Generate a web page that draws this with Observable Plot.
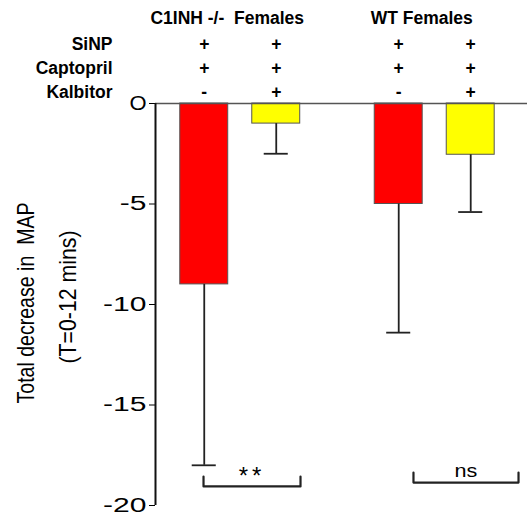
<!DOCTYPE html>
<html><head><meta charset="utf-8">
<script src="https://cdn.jsdelivr.net/npm/d3@7"></script>
<script src="https://cdn.jsdelivr.net/npm/@observablehq/plot@0.6"></script>
<style>
body{margin:0;background:#fff;}
#chart svg text{white-space:pre;}
</style></head><body><div id="chart"></div>
<script>
// ---- data ----
const groups = ["C1INH -/-  Females", "WT Females"];
const treatments = ["SiNP", "Captopril", "Kalbitor"];
const barGroup = [0, 0, 1, 1];
const means = [-9.0, -1.0, -5.0, -2.55];
const errLow = [-18.0, -2.5, -11.4, -5.4];
const signs = [["+", "+", "-"], ["+", "+", "+"], ["+", "+", "-"], ["+", "+", "+"]];
const yTicks = [0, -5, -10, -15, -20];
const yTickLabels = ["O", "-5", "-10", "-15", "-20"];
const yLabelLines = ["Total decrease in  MAP", "(T=0-12 mins)"];
const sigLabels = ["**", "ns"];

// ---- layout ----
const W = 527, H = 516;
const groupCenter = [1.177, 3.878];
const barHalf = 0.333, capHalf = 0.167;
const slot = i => barGroup.slice(0, i).filter(g => g === barGroup[i]).length;
const xOf = i => groupCenter[barGroup[i]] + (slot(i) - 0.5);
const rowY = k => 2.94 - k * 1.2;

const bars = means.map((m, i) => ({i, x: xOf(i), m, lo: errLow[i], kal: signs[i][2]}));
const signData = [];
signs.forEach((s, i) => s.forEach((t, k) => signData.push({x: xOf(i), y: rowY(k), t})));

const brackets = [
  {label: sigLabels[0], x1: groupCenter[0] - 0.51, x2: groupCenter[0] + 0.837, yb: -19.05, yt: -18.56, ty: -18.55, bold: true, fs: 24},
  {label: sigLabels[1], x1: groupCenter[1] - 0.295, x2: groupCenter[1] + 1.164, yb: -18.86, yt: -18.36, ty: -18.3, bold: false, fs: 18}
];
const bracketPts = [];
brackets.forEach((b, j) => {
  bracketPts.push({z: j, x: b.x1, y: b.yt}, {z: j, x: b.x1, y: b.yb}, {z: j, x: b.x2, y: b.yb}, {z: j, x: b.x2, y: b.yt});
});

const labelFont = "'Liberation Sans', Arial, sans-serif";
const plot = Plot.plot({
  width: W, height: H,
  marginLeft: 155, marginRight: 0, marginTop: 103, marginBottom: 11,
  style: {fontFamily: labelFont, background: "#fff"},
  x: {domain: [0, 372 / 72], axis: null},
  y: {domain: [-20, 0], ticks: yTicks, tickFormat: d => yTickLabels[yTicks.indexOf(d)], tickSize: 6, tickPadding: 3, label: null},
  color: {domain: ["-", "+"], range: ["#ff0000", "#ffff00"]},
  marks: [
    Plot.rectY(bars, {x1: d => d.x - barHalf, x2: d => d.x + barHalf, y1: 0, y2: "m", fill: "kal", stroke: "#555", strokeWidth: 1}),
    Plot.ruleX(bars, {x: "x", y1: "m", y2: "lo", stroke: "#222", strokeWidth: 1.8}),
    Plot.ruleY(bars, {y: "lo", x1: d => d.x - capHalf, x2: d => d.x + capHalf, stroke: "#222", strokeWidth: 1.8}),
    Plot.ruleY([0], {stroke: "#555", strokeWidth: 1.5}),
    Plot.ruleX([0], {y1: 0, y2: -20, stroke: "#111", strokeWidth: 2}),
    Plot.text(groups, {x: (d, k) => groupCenter[k], dx: -13, y: 4.23, text: d => d, fontSize: 17.5, fontWeight: "bold", fill: "#000"}),
    Plot.text(treatments, {x: 0, y: (d, k) => rowY(k), dx: -43, textAnchor: "end", text: d => d, fontSize: 17.5, fontWeight: "bold", fill: "#000"}),
    Plot.text(signData, {x: "x", y: "y", text: "t", fontSize: 17.5, fontWeight: "bold", fill: "#000"}),
    Plot.text([yLabelLines[0]], {frameAnchor: "left", dx: -129, dy: 99, rotate: -90, textAnchor: "start", text: d => d, fontSize: 24, fill: "#000"}),
    Plot.text([yLabelLines[1]], {frameAnchor: "left", dx: -87, dy: 59, rotate: -90, textAnchor: "start", text: d => d, fontSize: 24, fill: "#000"}),
    Plot.line(bracketPts, {x: "x", y: "y", z: "z", stroke: "#222", strokeWidth: 2.2}),
    Plot.text(brackets, {x: d => (d.x1 + d.x2) / 2, y: "ty", text: "label", fontSize: d => d.fs, fontWeight: d => d.bold ? "bold" : "normal", fill: "#000"})
  ]
});
document.getElementById("chart").appendChild(plot);

// stretch / condense text to match the reference's glyph proportions
function setLen(el, len) {
  el.setAttribute("textLength", len.toFixed(1));
  el.setAttribute("lengthAdjust", "spacingAndGlyphs");
}
plot.querySelectorAll("g[aria-label^='y-axis'] text").forEach(t => {
  t.setAttribute("font-size", "20");
  t.style.fontSize = "20px";
  setLen(t, t.getComputedTextLength() * (t.textContent === "O" ? 1.1 : 1.5));
});
plot.querySelectorAll("text").forEach(t => {
  if (t.textContent === "ns") setLen(t, t.getComputedTextLength() * 1.2);
  if (t.textContent === "**") t.setAttribute("letter-spacing", "4");
  if (t.textContent === yLabelLines[0]) setLen(t, 201);
  if (t.textContent === yLabelLines[1]) setLen(t, 133);
});
</script></body></html>
